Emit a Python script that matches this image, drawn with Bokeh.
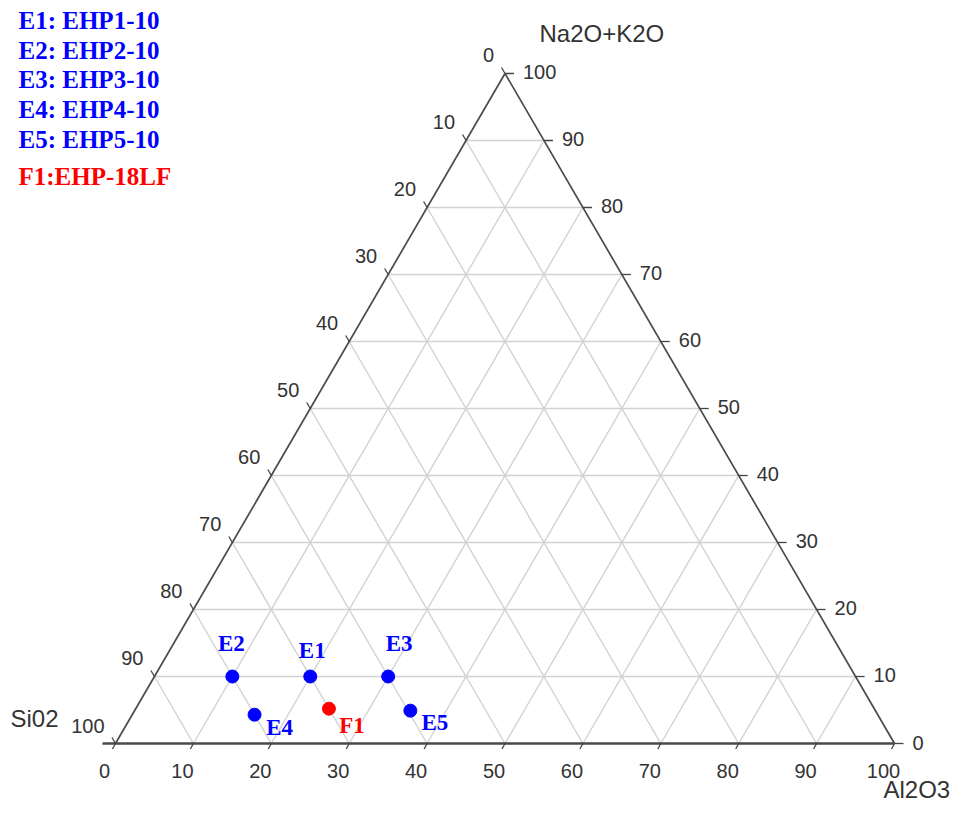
import numpy as np
from bokeh.plotting import figure
from bokeh.models import Range1d, ColumnDataSource
from bokeh.core.properties import value
from bokeh.embed import file_html
from bokeh.resources import INLINE

# ---------------- data ----------------
point_names = ["E1", "E2", "E3", "E4", "E5", "F1"]
sio2 = [70.0, 80.0, 60.0, 80.0, 59.7, 70.0]
al2o3 = [20.0, 10.0, 30.0, 15.7, 35.4, 24.8]
na2o_k2o = [10.0, 10.0, 10.0, 4.3, 4.9, 5.2]
point_colors = ["#0000FF", "#0000FF", "#0000FF", "#0000FF", "#0000FF", "#FF0000"]

legend_texts = ["E1: EHP1-10", "E2: EHP2-10", "E3: EHP3-10", "E4: EHP4-10", "E5: EHP5-10", "F1:EHP-18LF"]
tick_values = [0, 10, 20, 30, 40, 50, 60, 70, 80, 90, 100]
tick_labels = [str(v) for v in tick_values]
axis_titles = {"top": "Na2O+K2O", "left": "Si02", "right": "Al2O3"}

# ---------------- geometry helpers (style / layout) ----------------
H = np.sqrt(3) / 2
SX, SY = 7.79, 7.7365          # px per data unit
IX0, IY0 = 115.0, 743.0        # image px of the SiO2 vertex
FIG_W, FIG_H = 954, 806
ORG = 0                        # image px of the figure's top-left corner
x0 = (ORG - IX0) / SX
x1 = (ORG + FIG_W - IX0) / SX
y1 = (IY0 - ORG) / SY
y0 = (IY0 - ORG - FIG_H) / SY


def tern(al, na):
    return al + na / 2.0, na * H


def off(x, y, dx, dy):
    """offset a data point by image pixels (dy positive = down)"""
    return x + dx / SX, y - dy / SY


def img(ix, iy):
    return (ix - IX0) / SX, (IY0 - iy) / SY


p = figure(width=FIG_W, height=FIG_H, x_range=Range1d(x0, x1), y_range=Range1d(y0, y1),
           output_backend="svg", toolbar_location=None, x_axis_type=None, y_axis_type=None,
           min_border=0, outline_line_color=None, background_fill_color="white",
           border_fill_color="white")

# grid lines
gx, gy = [], []
for v in tick_values[1:-1]:
    a, b = tern(0, v), tern(100 - v, v)          # constant Na2O+K2O
    gx.append([a[0], b[0]]); gy.append([a[1], b[1]])
    a, b = tern(v, 0), tern(v, 100 - v)          # constant Al2O3
    gx.append([a[0], b[0]]); gy.append([a[1], b[1]])
    a, b = tern(100 - v, 0), tern(0, 100 - v)    # constant SiO2
    gx.append([a[0], b[0]]); gy.append([a[1], b[1]])
p.multi_line(gx, gy, line_color="#d2d2d2", line_width=1.4)

# triangle edges
L, R, T = tern(0, 0), tern(100, 0), tern(0, 100)
lx, _ = off(L[0], L[1], -13, 0)
p.line([lx, R[0]], [0, 0], line_color="#4a4a4a", line_width=2.4)
p.line([L[0], T[0]], [L[1], T[1]], line_color="#4a4a4a", line_width=1.7)
p.line([R[0], T[0]], [R[1], T[1]], line_color="#4a4a4a", line_width=1.7)

# ticks and labels
tx, ty = [], []
bx, by, rx, ry, lxs, lys = [], [], [], [], [], []
for v in tick_values:
    x, y = tern(v, 0)                             # bottom axis (Al2O3)
    e = off(x, y, -3, 5.5)
    tx.append([x, e[0]]); ty.append([y, e[1]])
    q = off(x, y, -11, 27); bx.append(q[0]); by.append(q[1])
    x, y = tern(100 - v, v)                       # right axis (Na2O+K2O)
    e = off(x, y, 9, 0)
    tx.append([x, e[0]]); ty.append([y, e[1]])
    q = off(x, y, 18, -1); rx.append(q[0]); ry.append(q[1])
    x, y = tern(0, 100 - v)                       # left axis (SiO2)
    e = off(x, y, -3.5, -6)
    tx.append([x, e[0]]); ty.append([y, e[1]])
    q = off(x, y, -11, -18); lxs.append(q[0]); lys.append(q[1])
p.multi_line(tx, ty, line_color="#444444", line_width=1.3)

tick_font = value("Liberation Sans")
p.text(bx, by, text=tick_labels, text_font=tick_font, text_font_size="20px", text_color="#333333",
       text_align="center", text_baseline="middle")
p.text(rx, ry, text=tick_labels, text_font=tick_font, text_font_size="20px", text_color="#333333",
       text_align="left", text_baseline="middle")
p.text(lxs, lys, text=tick_labels, text_font=tick_font, text_font_size="20px", text_color="#333333",
       text_align="right", text_baseline="middle")

# axis titles
for key, (ix, iy) in {"top": (539, 32.5), "left": (10, 718), "right": (883, 789)}.items():
    x, y = img(ix, iy)
    p.text([x], [y], text=[axis_titles[key]], text_font=tick_font, text_font_size="24px",
           text_color="#333333", text_align="left", text_baseline="middle")

# data points
px_, py_ = [], []
for a, n in zip(al2o3, na2o_k2o):
    x, y = tern(a, n)
    px_.append(x); py_.append(y)
src = ColumnDataSource(dict(x=px_, y=py_, name=point_names, color=point_colors))
p.scatter("x", "y", source=src, size=13, fill_color="color", line_color="color")

# point labels (pixel offsets as style)
label_offsets = [(2, -26), (-1, -33), (11, -33), (25, 13), (24.5, 11.5), (23, 17)]
lbx, lby = [], []
for (x, y), (dx, dy) in zip(zip(px_, py_), label_offsets):
    q = off(x, y, dx, dy); lbx.append(q[0]); lby.append(q[1])
p.text(lbx, lby, text=point_names, text_color=point_colors, text_font=value("Liberation Serif"),
       text_font_style="bold", text_font_size="23px", text_align="center", text_baseline="middle")

# legend text block
leg_y = [20, 49.7, 79, 109, 139, 176]
leg_colors = ["#0000FF"] * 5 + ["#FF0000"]
gx_, gy_ = [], []
for iy in leg_y:
    q = img(18, iy); gx_.append(q[0]); gy_.append(q[1])
p.text(gx_, gy_, text=legend_texts, text_color=leg_colors, text_font=value("Liberation Serif"),
       text_font_style="bold", text_font_size="25px", text_align="left", text_baseline="middle")

open("out.html", "w").write(file_html(p, INLINE))
